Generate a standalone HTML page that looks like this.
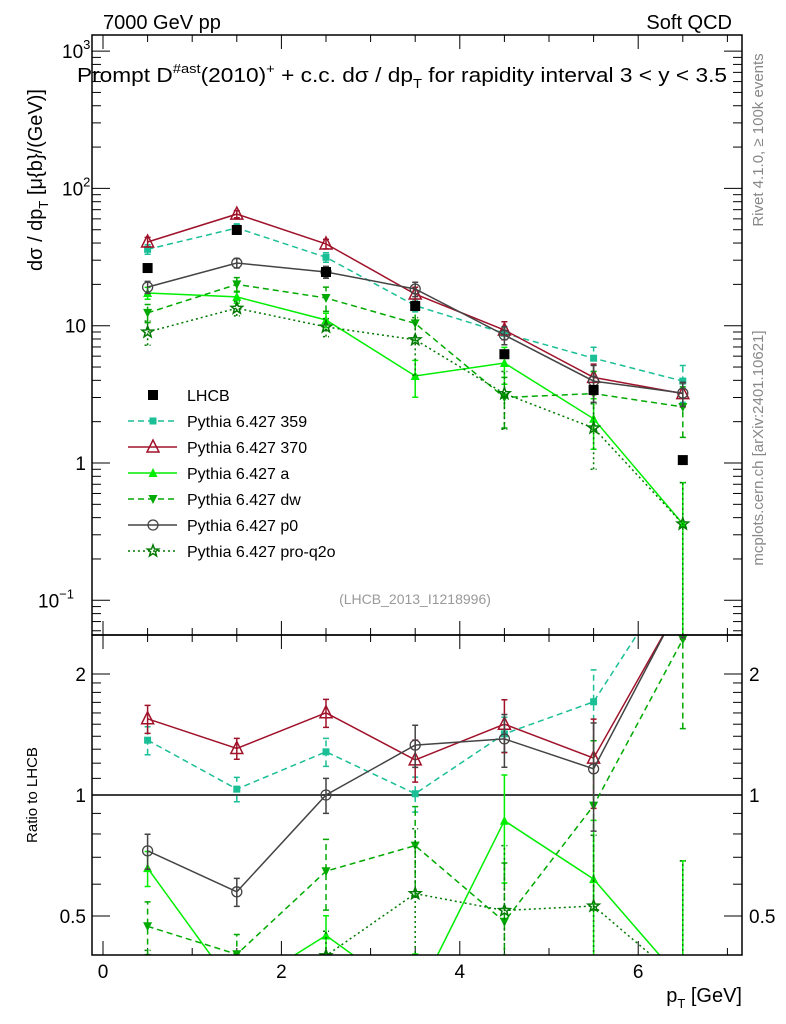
<!DOCTYPE html>
<html><head><meta charset="utf-8"><style>
html,body{margin:0;padding:0;background:#fff;width:786px;height:1024px;overflow:hidden;}
svg{display:block;font-family:"Liberation Sans",sans-serif;}
</style></head><body>
<svg id="chart" width="786" height="1024" viewBox="0 0 786 1024" xmlns="http://www.w3.org/2000/svg">
<defs>
<clipPath id="clipMain"><rect x="92" y="35" width="650" height="600"/></clipPath>
<clipPath id="clipRatio"><rect x="92" y="635" width="650" height="320"/></clipPath>
</defs>
<text x="103" y="29" font-size="20">7000 GeV pp</text>
<text x="732" y="29" font-size="20" text-anchor="end">Soft QCD</text>
<text x="77" y="82" font-size="20" textLength="650" lengthAdjust="spacingAndGlyphs">Prompt D<tspan font-size="13" dy="-9">#ast</tspan><tspan dy="9">(2010)</tspan><tspan font-size="13" dy="-9">+</tspan><tspan dy="9"> + c.c.  dσ / dp</tspan><tspan font-size="13" dy="6">T</tspan><tspan dy="-6"> for rapidity interval 3 &lt; y &lt; 3.5</tspan></text>
<text transform="translate(763,140) rotate(-90)" font-size="15" fill="#888" text-anchor="middle">Rivet 4.1.0, ≥ 100k events</text>
<text transform="translate(763,448) rotate(-90)" font-size="15" fill="#888" text-anchor="middle">mcplots.cern.ch [arXiv:2401.10621]</text>
<text transform="translate(42,180) rotate(-90)" font-size="20" text-anchor="middle">dσ / dp<tspan font-size="13" dy="6">T</tspan><tspan dy="-6"> [μ{b}/(GeV)]</tspan></text>
<text transform="translate(37,795) rotate(-90)" font-size="15" text-anchor="middle">Ratio to LHCB</text>
<text x="742" y="1002" font-size="20" text-anchor="end">p<tspan font-size="13" dy="6">T</tspan><tspan dy="-6"> [GeV]</tspan></text>
<text x="415" y="604" font-size="14" fill="#999" text-anchor="middle">(LHCB_2013_I1218996)</text>
<g id="axes"></g>
<g id="mainMarks" clip-path="url(#clipMain)"></g>
<g id="ratioMarks" clip-path="url(#clipRatio)"></g>
<g id="legend"></g>
<rect x="92" y="35" width="650" height="600" fill="none" stroke="#000" stroke-width="1.5"/>
<rect x="92" y="635" width="650" height="320" fill="none" stroke="#000" stroke-width="1.5"/>
</svg>
<script>
const ptBins = [0.5, 1.5, 2.5, 3.5, 4.5, 5.5, 6.5];
const lhcbValues = [26.3, 49.8, 24.6, 13.9, 6.2, 3.4, 1.05];
const py359Values = [36, 51.5, 31.5, 14, 8.8, 5.8, 3.95];
const py359Err = [0.08, 0.07, 0.08, 0.1, 0.1, 0.2, 0.3];
const py370Values = [40.7, 65, 39.4, 17, 9.3, 4.2, 3.2];
const py370Err = [0.08, 0.06, 0.08, 0.12, 0.15, 0.25, 0.2];
const pyAValues = [17.3, 16.2, 11, 4.3, 5.35, 2.1, 0.36];
const pyAErr = [0.1, 0.1, 0.12, 0.3, 0.3, 0.4, 1.0];
const pyDwValues = [12.4, 20, 15.9, 10.4, 3.0, 3.2, 2.56];
const pyDwErr = [0.15, 0.12, 0.2, 0.25, 0.4, 0.45, 0.4];
const pyP0Values = [19.1, 28.6, 24.6, 18.5, 8.55, 3.95, 3.23];
const pyP0Err = [0.1, 0.08, 0.1, 0.12, 0.15, 0.3, 0.2];
const pyQ2oValues = [9.0, 13.4, 9.8, 7.9, 3.2, 1.8, 0.36];
const pyQ2oErr = [0.2, 0.12, 0.15, 0.45, 0.45, 0.5, 1.0];
const xTickLabels = ["0", "2", "4", "6"];
const ratioTickLabels = ["0.5", "1", "2"];

const NS = "http://www.w3.org/2000/svg";
const X0 = 103, XS = 89.2;
const xPos = v => X0 + v * XS;
const yMain = v => 463 - Math.log10(v) * 137.3;
const yRatio = v => 795 - Math.log10(v) * 402;
function mk(tag, parent, attrs) {
  const e = document.createElementNS(NS, tag);
  for (const k in attrs) e.setAttribute(k, attrs[k]);
  parent.appendChild(e);
  return e;
}
const axes = document.getElementById('axes');
for (let v = 0; v <= 7.01; v += 0.5) {
  const major = Math.abs(v % 2) < 1e-6;
  const len = major ? 14 : 7;
  const x = xPos(v);
  [[35, 1], [635, -1], [635, 1], [955, -1]].forEach(([y0, d]) => {
    const t = mk('line', axes, {x1: x, x2: x, y1: y0, y2: y0 + d * len, stroke: '#000', 'stroke-width': 1});
    
    
  });
}
xTickLabels.forEach(s => {
  const t = mk('text', axes, {x: xPos(parseFloat(s)), y: 978, 'font-size': 19, 'text-anchor': 'middle'});
  t.textContent = s;
  
  
});
for (let d = -2; d <= 3; d++) {
  for (let m = 1; m <= 9; m++) {
    const v = m * Math.pow(10, d);
    const y = yMain(v);
    if (y < 35 || y > 635) continue;
    const len = m === 1 ? 18 : 9;
    [[92, 1], [742, -1]].forEach(([x0, dd]) => {
      const t = mk('line', axes, {x1: x0, x2: x0 + dd * len, y1: y, y2: y, stroke: '#000', 'stroke-width': 1});
      
      
    });
  }
}
[[-1, '10', '−1', 38], [0, '1', '', 0], [1, '10', '', 0], [2, '10', '2', 62], [3, '10', '3', 62]].forEach(([e, b, s, xs]) => {
  const y = yMain(Math.pow(10, e));
  const t = mk('text', axes, s ? {x: xs, y: y + 7, 'font-size': 19} : {x: 86, y: y + 7, 'font-size': 19, 'text-anchor': 'end'});
  t.textContent = b;
  if (s) { const sp = mk('tspan', t, {'font-size': 13, dy: -9}); sp.textContent = s; }
  
  
});
[0.4,0.5,0.6,0.7,0.8,0.9,1,1.1,1.2,1.3,1.4,1.5,1.6,1.7,1.8,1.9,2,2.5].forEach(v => {
  const y = yRatio(v);
  if (y < 635 || y > 955) return;
  const major = (v === 0.5 || v === 1 || v === 2);
  const len = major ? 18 : 9;
  [[92, 1], [742, -1]].forEach(([x0, dd]) => {
    const t = mk('line', axes, {x1: x0, x2: x0 + dd * len, y1: y, y2: y, stroke: '#000', 'stroke-width': 1});
    
    
  });
});
ratioTickLabels.forEach(s => {
  const y = yRatio(parseFloat(s)) + 7;
  const a = mk('text', axes, {x: 86, y: y, 'font-size': 19, 'text-anchor': 'end'});
  a.textContent = s;
  
  
  const b = mk('text', axes, {x: 749, y: y, 'font-size': 19});
  b.textContent = s;
  
  
});
const refLine = mk('line', axes, {x1: 92, x2: 742, y1: yRatio(1), y2: yRatio(1), stroke: '#000', 'stroke-width': 1.5});



function marker(g, type, x, y, color) {
  let e;
  if (type === 'bigsquare') e = mk('rect', g, {x: x - 5, y: y - 5, width: 10, height: 10, fill: '#000'});
  else if (type === 'square') e = mk('rect', g, {x: x - 3.5, y: y - 3.5, width: 7, height: 7, fill: color});
  else if (type === 'otri') e = mk('polygon', g, {points: `${x},${y-7} ${x-6},${y+5} ${x+6},${y+5}`, fill: 'none', stroke: color, 'stroke-width': 1.5});
  else if (type === 'tri') e = mk('polygon', g, {points: `${x},${y-5} ${x-4.5},${y+4} ${x+4.5},${y+4}`, fill: color});
  else if (type === 'dtri') e = mk('polygon', g, {points: `${x},${y+5} ${x-4.5},${y-4} ${x+4.5},${y-4}`, fill: color});
  else if (type === 'circle') e = mk('circle', g, {cx: x, cy: y, r: 5, fill: 'none', stroke: color, 'stroke-width': 1.3});
  else if (type === 'star') {
    let p = [];
    for (let i = 0; i < 10; i++) { const r = i % 2 ? 2.5 : 6, a = -Math.PI / 2 + i * Math.PI / 5; p.push((x + r * Math.cos(a)).toFixed(1) + ',' + (y + r * Math.sin(a)).toFixed(1)); }
    e = mk('polygon', g, {points: p.join(' '), fill: 'none', stroke: color, 'stroke-width': 1.5});
  }
  return e;
}
const series = [
  {name: 'pythia-359', label: 'Pythia 6.427 359', vals: py359Values, err: py359Err, color: '#1abf96', dash: '6,4', mk: 'square'},
  {name: 'pythia-370', label: 'Pythia 6.427 370', vals: py370Values, err: py370Err, color: '#a0122a', dash: '', mk: 'otri'},
  {name: 'pythia-a', label: 'Pythia 6.427 a', vals: pyAValues, err: pyAErr, color: '#00ee00', dash: '', mk: 'tri'},
  {name: 'pythia-dw', label: 'Pythia 6.427 dw', vals: pyDwValues, err: pyDwErr, color: '#00aa00', dash: '6,4', mk: 'dtri'},
  {name: 'pythia-p0', label: 'Pythia 6.427 p0', vals: pyP0Values, err: pyP0Err, color: '#444444', dash: '', mk: 'circle'},
  {name: 'pythia-pro-q2o', label: 'Pythia 6.427 pro-q2o', vals: pyQ2oValues, err: pyQ2oErr, color: '#007a00', dash: '2,3', mk: 'star'}
];
const mainG = document.getElementById('mainMarks');
const ratioG = document.getElementById('ratioMarks');
series.forEach(s => {
  [[mainG, yMain, s.vals], [ratioG, yRatio, s.vals.map((v, i) => v / lhcbValues[i])]].forEach(([g, yf, vals], pi) => {
    const grp = mk('g', g, {});
    
    
    const pts = ptBins.map((b, i) => xPos(b).toFixed(1) + ',' + yf(vals[i]).toFixed(1)).join(' ');
    const pl = mk('polyline', grp, {points: pts, fill: 'none', stroke: s.color, 'stroke-width': 1.5, 'stroke-dasharray': s.dash});
    
    
    ptBins.forEach((b, i) => {
      const x = xPos(b);
      const lo = Math.max(vals[i] * (1 - s.err[i]), 1e-3), hi = vals[i] * (1 + s.err[i]);
      const eb = mk('path', grp, {d: `M${x},${yf(lo)}V${yf(hi)}M${x-3},${yf(lo)}h6M${x-3},${yf(hi)}h6`, stroke: s.color, 'stroke-width': 1.5, fill: 'none', 'stroke-dasharray': s.dash});
      
      
      const m = marker(grp, s.mk, x, yf(vals[i]), s.color);
      
      
    });
  });
});
ptBins.forEach((b, i) => {
  const m = marker(mainG, 'bigsquare', xPos(b), yMain(lhcbValues[i]), '#000');
  
  
});
const lg = document.getElementById('legend');
const rows = [{label: 'LHCB', mk: 'bigsquare', color: '#000', dash: null, name: 'lhcb'}].concat(series);
rows.forEach((s, i) => {
  const y = 395 + i * 26;
  const g = mk('g', lg, {});
  
  
  if (s.dash !== null) mk('line', g, {x1: 128, x2: 177, y1: y, y2: y, stroke: s.color, 'stroke-width': 1.5, 'stroke-dasharray': s.dash});
  marker(g, s.mk, 153, y, s.color);
  const t = mk('text', g, {x: 187, y: y + 6, 'font-size': 16});
  t.textContent = s.label;
});
</script>
</body></html>
